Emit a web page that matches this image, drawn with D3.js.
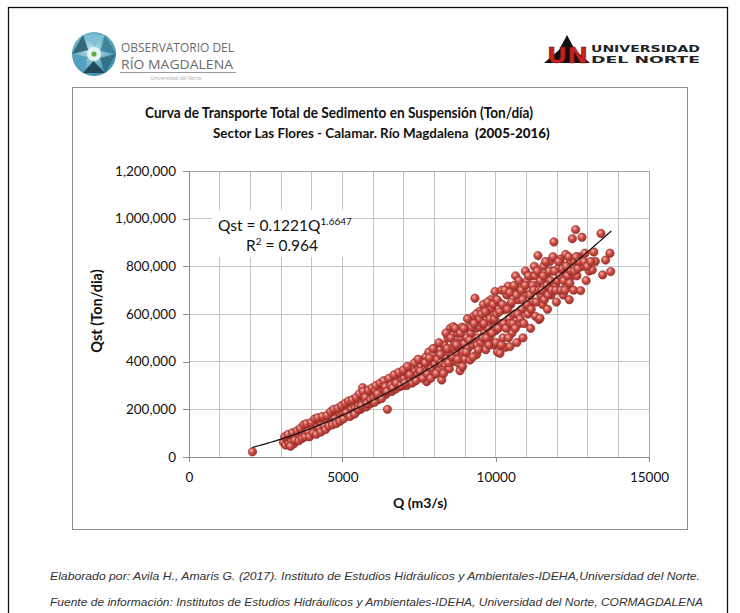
<!DOCTYPE html>
<html><head><meta charset="utf-8">
<script src="https://cdn.jsdelivr.net/npm/d3@7/dist/d3.min.js"></script>
<style>html,body{margin:0;padding:0;background:#fff;} svg{display:block}</style>
</head><body>
<svg id="c" width="740" height="613"></svg>
<script>
// ---------- data ----------
const titleLine1 = "Curva de Transporte Total de Sedimento en Suspensión (Ton/día)";
const titleLine2a = "Sector Las Flores - Calamar. Río Magdalena\u00A0\u00A0";
const titleLine2b = "(2005-2016)";
const xLabel = "Q (m3/s)";
const yLabel = "Qst (Ton/dia)";
const xTicks = [0, 5000, 10000, 15000];
const yTicks = [0, 200000, 400000, 600000, 800000, 1000000, 1200000];
const trendCoef = 0.1221, trendExp = 1.6647, trendR2 = 0.964;
const trendRange = [2070, 13800];
const footer1 = "Elaborado por: Avila H., Amaris G. (2017). Instituto de Estudios Hidráulicos y Ambientales-IDEHA,Universidad del Norte.";
const footer2 = "Fuente de información: Institutos de Estudios Hidráulicos y Ambientales-IDEHA, Universidad del Norte, CORMAGDALENA";

// [Q (m3/s), Qst (Ton/dia)]
const pointsLow = [
 [2070,22000],[3080,62000],[3150,50000],[3200,72000],[3260,58000],[3300,80000],[3350,66000],[3400,88000],[3420,55000],[3480,75000],
 [3550,95000],[3600,82000],[3650,105000],[3700,92000],[3750,118000],[3800,100000],[3850,88000],[3900,125000],[3950,110000],[3980,98000],
 [4020,130000],[4080,115000],[4120,140000],[4180,125000],[4220,108000],[4280,145000],[4320,132000],[4380,118000],[4420,155000],[4470,138000],[4490,125000],
 [4530,150000],[4570,165000],[4610,140000],[4650,172000],[4700,158000],[4740,145000],[4780,180000],[4820,165000],[4870,150000],[4900,190000],[4950,172000],[4980,160000],
 [5020,185000],[5060,200000],[5100,170000],[5150,210000],[5180,190000],[5220,178000],[5270,215000],[5300,198000],[5350,185000],[5380,225000],[5420,205000],[5470,192000],[5490,230000],
 [5530,215000],[5570,240000],[5600,200000],[5640,225000],[5663,291000],[5700,250000],[5730,232000],[5780,210000],[5820,260000],[5860,240000],[5900,222000],[5950,255000],[5990,270000],
 [3120,85000],[3230,95000],[3310,45000],[3380,102000],[3450,70000],[3520,110000],[3580,68000],[3630,120000],[3690,78000],[3740,135000],[3790,85000],[3830,140000],[3880,105000],[3930,85000],[3990,145000],
 [4050,100000],[4100,160000],[4150,95000],[4200,165000],[4260,120000],[4300,105000],[4350,170000],[4400,130000],[4450,115000],[4500,175000],
 [4560,130000],[4620,190000],[4680,135000],[4720,200000],[4760,160000],[4800,140000],[4850,205000],[4920,150000],[4970,215000],
 [5040,160000],[5090,225000],[5130,185000],[5200,235000],[5250,170000],[5320,240000],[5400,180000],[5450,250000],[5510,200000],
 [5560,265000],[5620,215000],[5680,275000],[5750,250000],[5800,225000],[5850,280000],[5920,240000],[5970,290000]
];
const pointsMid = [
 [6030,250000],[6080,280000],[6120,262000],[6170,240000],[6200,295000],[6250,272000],[6290,255000],[6330,300000],[6380,282000],[6420,262000],[6470,200000],[6470,310000],
 [6530,290000],[6570,310000],[6610,275000],[6650,325000],[6700,300000],[6740,285000],[6780,335000],[6820,315000],[6870,295000],[6900,345000],[6950,320000],[6980,300000],
 [7020,330000],[7060,355000],[7100,300000],[7150,340000],[7180,365000],[7220,320000],[7260,350000],[7300,375000],[7340,335000],[7380,360000],[7420,390000],[7460,345000],[7490,370000],
 [7520,337000],[7560,380000],[7600,355000],[7640,400000],[7680,365000],[7720,420000],[7750,316000],[7780,385000],[7820,440000],[7860,400000],[7900,370000],[7940,425000],[7980,345000],
 [8020,390000],[8050,455000],[8100,410000],[8130,360000],[8184,449000],[8220,395000],[8240,323000],[8280,430000],[8320,470000],[8360,385000],[8400,415000],[8440,500000],[8470,440000],[8490,370000],
 [8520,540000],[8560,455000],[8600,400000],[8618,547000],[8650,480000],[8700,430000],[8740,520000],[8780,460000],[8810,390000],[8836,362000],[8870,500000],[8900,545000],[8940,440000],[8980,475000],[8990,410000],
 [9020,540000],[9060,500000],[9100,455000],[9130,545000],[9162,407000],[9200,520000],[9240,470000],[9280,590000],[9325,666000],[9350,540000],[9380,430000],[9420,500000],[9460,610000],[9490,545000],[9400,470000],
 [9520,480000],[9560,560000],[9600,640000],[9640,520000],[9680,450000],[9720,600000],[9760,540000],[9800,500000],[9840,660000],[9869,624000],[9900,570000],[9940,470000],[9977,694000],[9990,530000],
 [6050,230000],[6100,300000],[6150,265000],[6230,310000],[6280,245000],[6350,320000],[6400,295000],[6450,275000],
 [6520,330000],[6590,300000],[6640,290000],[6690,345000],[6760,310000],[6840,355000],[6920,300000],[6990,365000],
 [7040,310000],[7120,380000],[7200,345000],[7280,310000],[7350,395000],[7400,320000],[7470,410000],[7540,360000],[7620,330000],[7700,395000],[7760,350000],[7840,415000],[7880,330000],[7960,455000],
 [8060,350000],[8150,480000],[8200,430000],[8300,350000],[8380,520000],[8420,455000],[8460,395000],[8540,500000],[8580,420000],[8680,540000],[8720,470000],[8760,410000],[8850,520000],[8920,380000],[8960,540000],
 [9040,440000],[9080,580000],[9150,490000],[9220,545000],[9260,420000],[9300,560000],[9370,600000],[9440,450000],[9480,580000],
 [9540,600000],[9580,500000],[9620,560000],[9660,610000],[9700,500000],[9740,650000],[9780,470000],[9820,580000],[9880,520000],[9920,640000],[9960,580000]
];
const pointsHigh = [
 [10030,600000],[10060,440000],[10100,650000],[10140,435000],[10170,560000],[10200,700000],[10240,500000],[10280,620000],[10320,460000],[10360,680000],[10411,717000],[10440,580000],[10467,463000],[10490,640000],
 [10530,520000],[10570,700000],[10610,600000],[10650,760000],[10690,480000],[10730,660000],[10770,560000],[10810,720000],[10850,620000],[10890,500000],[10930,680000],[10970,780000],[11010,736000],
 [11050,600000],[11100,700000],[11140,540000],[11180,760000],[11220,650000],[11260,800000],[11300,590000],[11340,720000],[11379,845000],[11412,577000],[11445,582000],[11470,680000],[11490,760000],
 [11530,640000],[11570,800000],[11610,700000],[11650,760000],[11690,620000],[11730,740000],[11770,820000],[11810,680000],[11850,780000],[11900,902000],[11940,720000],[11980,650000],
 [12030,790000],[12070,700000],[12110,830000],[12150,750000],[12200,680000],[12240,800000],[12280,850000],[12320,720000],[12360,780000],[12400,660000],[12440,820000],[12480,760000],[12500,916000],
 [12540,700000],[12580,820000],[12607,954000],[12650,760000],[12700,840000],[12770,698000],[12814,922000],[12850,800000],[12912,855000],[12950,740000],
 [13050,780000],[13150,785000],[13250,820000],[13433,938000],[13488,764000],[13585,826000],[13727,855000],[13750,778000],
 [10010,480000],[10050,660000],[10090,540000],[10130,610000],[10190,470000],[10220,640000],[10260,560000],[10300,700000],[10340,540000],[10380,620000],[10420,500000],[10460,690000],[10480,560000],
 [10520,650000],[10560,560000],[10600,720000],[10640,540000],[10680,680000],[10720,600000],[10760,740000],[10800,580000],[10840,700000],[10880,660000],[10920,560000],[10960,720000],
 [11020,640000],[11070,760000],[11120,680000],[11160,620000],[11200,720000],[11240,700000],[11280,760000],[11320,650000],[11360,780000],[11420,700000],[11460,740000],
 [11510,700000],[11550,760000],[11590,660000],[11630,820000],[11670,720000],[11710,680000],[11750,780000],[11790,740000],[11830,700000],[11870,840000],[11920,780000],[11960,700000],
 [12010,740000],[12050,820000],[12090,760000],[12130,700000],[12180,790000],[12220,740000],[12260,700000],[12300,800000],[12340,760000],[12380,840000],[12420,730000],[12460,780000],
 [12560,780000],[12620,840000],[12680,790000],[12730,820000],[12880,820000],[12990,800000],[13100,820000],[13200,860000]
];

// ---------- drawing ----------
const svg = d3.select("#c");
const defs = svg.append("defs");
const g1 = defs.append("radialGradient").attr("id","ball").attr("cx","38%").attr("cy","35%").attr("r","65%");
g1.append("stop").attr("offset","0%").attr("stop-color","#f4b8b0");
g1.append("stop").attr("offset","45%").attr("stop-color","#d0524a");
g1.append("stop").attr("offset","100%").attr("stop-color","#a42f29");
const g2 = defs.append("radialGradient").attr("id","lens").attr("cx","45%").attr("cy","40%").attr("r","60%");
g2.append("stop").attr("offset","0%").attr("stop-color","#bfe3ee");
g2.append("stop").attr("offset","100%").attr("stop-color","#3b8fae");

// outer frame
svg.append("rect").attr("x",8.5).attr("y",7.5).attr("width",719).attr("height",640)
  .attr("fill","none").attr("stroke","#111").attr("stroke-width",1.3);
// chart frame
svg.append("rect").attr("x",72.5).attr("y",87.5).attr("width",615).attr("height",442)
  .attr("fill","#fff").attr("stroke","#8c8c8c").attr("stroke-width",1);

// left logo
const lg = svg.append("g");
lg.append("circle").attr("cx",94).attr("cy",54).attr("r",22).attr("fill","url(#lens)");
const bladeCols = ["#2c6b80","#1d3f4c","#4f9fbd","#2b5f70","#7fc0d6","#3b7f95"];
bladeCols.forEach((c,i)=>{
  const a0 = i*Math.PI/3, a1 = a0 + Math.PI/3;
  const p = [[94+22*Math.cos(a0),54+22*Math.sin(a0)],[94+22*Math.cos(a1),54+22*Math.sin(a1)],[94+7*Math.cos(a0+0.6),54+7*Math.sin(a0+0.6)]];
  lg.append("path").attr("d",d3.line()(p)+"Z").attr("fill",c).attr("opacity",0.9);
});
lg.append("circle").attr("cx",94).attr("cy",54).attr("r",7).attr("fill","#e9f3f5");
lg.append("circle").attr("cx",94).attr("cy",54).attr("r",2.6).attr("fill","#57b043");
lg.append("text").attr("x",121).attr("y",51.5).attr("font-family","'Open Sans', sans-serif").attr("font-size",12)
  .attr("fill","#6a6a6a").attr("textLength",113).attr("lengthAdjust","spacingAndGlyphs").text("OBSERVATORIO DEL");
lg.append("text").attr("x",121).attr("y",69).attr("font-family","'Open Sans', sans-serif").attr("font-size",13)
  .attr("fill","#6a6a6a").attr("textLength",112).attr("lengthAdjust","spacingAndGlyphs").text("RÍO MAGDALENA");
lg.append("line").attr("x1",120).attr("x2",236).attr("y1",72.5).attr("y2",72.5).attr("stroke","#9a9a9a").attr("stroke-width",1);
lg.append("text").attr("x",176).attr("y",79.5).attr("text-anchor","middle").attr("font-family","'Open Sans', sans-serif")
  .attr("font-size",5).attr("fill","#aaa").text("Universidad del Norte");

// right logo
const rg = svg.append("g");
rg.append("path").attr("d","M567,35 L575,50 L590,63 L544,63 L559,50 Z").attr("fill","#111");
rg.append("text").attr("x",547).attr("y",63).attr("font-family","'DejaVu Sans', sans-serif").attr("font-weight","bold")
  .attr("font-size",21).attr("fill","#c8201f").attr("stroke","#5a0d0d").attr("stroke-width",0.4)
  .attr("textLength",41).attr("lengthAdjust","spacingAndGlyphs").text("UN");
rg.append("text").attr("x",591).attr("y",51.5).attr("font-family","'DejaVu Sans', sans-serif").attr("font-weight","bold")
  .attr("font-size",9.5).attr("fill","#222").attr("textLength",109).attr("lengthAdjust","spacingAndGlyphs").text("UNIVERSIDAD");
rg.append("text").attr("x",591).attr("y",63).attr("font-family","'DejaVu Sans', sans-serif").attr("font-weight","bold")
  .attr("font-size",9.5).attr("fill","#222").attr("textLength",109).attr("lengthAdjust","spacingAndGlyphs").text("DEL NORTE");

// titles
svg.append("text").attr("x",145).attr("y",118).attr("font-family","Lato, sans-serif").attr("font-weight","bold")
  .attr("font-size",15.5).attr("fill","#111").attr("textLength",388).attr("lengthAdjust","spacingAndGlyphs").text(titleLine1);
const t2 = svg.append("text").attr("x",213).attr("y",138).attr("font-family","Lato, sans-serif").attr("font-weight","bold")
  .attr("font-size",15).attr("fill","#111");
t2.append("tspan").text(titleLine2a);
t2.append("tspan").attr("font-weight","900").text(titleLine2b);
const natural2 = t2.node().getComputedTextLength();
if (natural2 > 0) t2.attr("font-size", 15 * 337 / natural2);

// scales
const x = d3.scaleLinear().domain([0,15000]).range([189,649]);
const y = d3.scaleLinear().domain([0,1200000]).range([457,171]);

// grid
const grid = svg.append("g").attr("stroke","#c4c4c4").attr("stroke-width",1).attr("shape-rendering","crispEdges");
grid.selectAll("line.v").data(d3.range(1000,15000,1000)).join("line")
  .attr("x1",d=>x(d)).attr("x2",d=>x(d)).attr("y1",y(1200000)).attr("y2",y(0));
grid.selectAll("line.h").data(yTicks.slice(1)).join("line")
  .attr("x1",x(0)).attr("x2",x(15000)).attr("y1",d=>y(d)).attr("y2",d=>y(d));
svg.append("rect").attr("x",x(0)).attr("y",y(1200000)).attr("width",x(15000)-x(0)).attr("height",y(0)-y(1200000))
  .attr("fill","none").attr("stroke","#a8a8a8").attr("shape-rendering","crispEdges");

// axes
const yAxis = svg.append("g").attr("transform",`translate(${x(0)},0)`)
  .call(d3.axisLeft(y).tickValues(yTicks).tickSize(6).tickPadding(7).tickFormat(d3.format(",")));
const xAxis = svg.append("g").attr("transform",`translate(0,${y(0)})`)
  .call(d3.axisBottom(x).tickValues(xTicks).tickSize(5).tickPadding(10).tickFormat(d3.format("d")));
[yAxis,xAxis].forEach(a=>{
  a.select(".domain").attr("stroke","#8c8c8c").attr("shape-rendering","crispEdges");
  a.selectAll(".tick line").attr("stroke","#8c8c8c").attr("shape-rendering","crispEdges");
  a.selectAll(".tick text").attr("font-family","Lato, sans-serif").attr("font-size",13.5).attr("fill","#111");
});

// axis labels
svg.append("text").attr("x",420).attr("y",508).attr("text-anchor","middle").attr("font-family","Lato, sans-serif")
  .attr("font-weight","bold").attr("font-size",14).attr("fill","#111").text(xLabel);
svg.append("text").attr("transform","translate(102,311) rotate(-90)").attr("text-anchor","middle").attr("font-family","Lato, sans-serif")
  .attr("font-weight","bold").attr("font-size",14.5).attr("fill","#111").text(yLabel);

// points
const allPoints = pointsLow.concat(pointsMid, pointsHigh);
svg.append("g").selectAll("circle").data(allPoints).join("circle")
  .attr("cx",d=>x(d[0])).attr("cy",d=>y(d[1])).attr("r",4.2)
  .attr("fill","url(#ball)").attr("stroke","#8e2a25").attr("stroke-width",0.6);

// trend line
const trendQ = d3.range(trendRange[0], trendRange[1]+1, 100);
svg.append("path").datum(trendQ)
  .attr("d", d3.line().x(q=>x(q)).y(q=>y(trendCoef*Math.pow(q,trendExp))))
  .attr("fill","none").attr("stroke","#111").attr("stroke-width",1.2);

// equation box
svg.append("rect").attr("x",212).attr("y",210).attr("width",140).attr("height",47).attr("fill","#fff");
const eq = svg.append("text").attr("x",218).attr("y",231).attr("font-family","Lato, sans-serif").attr("font-size",15.5).attr("fill","#111");
eq.append("tspan").text(`Qst = ${trendCoef}Q`);
eq.append("tspan").attr("font-size",10).attr("dy",-6).text(trendExp);
const r2t = svg.append("text").attr("x",282).attr("y",251).attr("text-anchor","middle").attr("font-family","Lato, sans-serif").attr("font-size",15.5).attr("fill","#111");
r2t.append("tspan").text("R");
r2t.append("tspan").attr("font-size",10).attr("dy",-6).text("2");
r2t.append("tspan").attr("dy",6).text(` = ${trendR2}`);

// footer
svg.append("text").attr("x",50).attr("y",580).attr("font-family","'Liberation Sans', Arial, sans-serif").attr("font-style","italic")
  .attr("font-size",11).attr("fill","#333").attr("textLength",650).attr("lengthAdjust","spacingAndGlyphs").text(footer1);
svg.append("text").attr("x",50).attr("y",606).attr("font-family","'Liberation Sans', Arial, sans-serif").attr("font-style","italic")
  .attr("font-size",11).attr("fill","#333").attr("textLength",653).attr("lengthAdjust","spacingAndGlyphs").text(footer2);
</script>
</body></html>
